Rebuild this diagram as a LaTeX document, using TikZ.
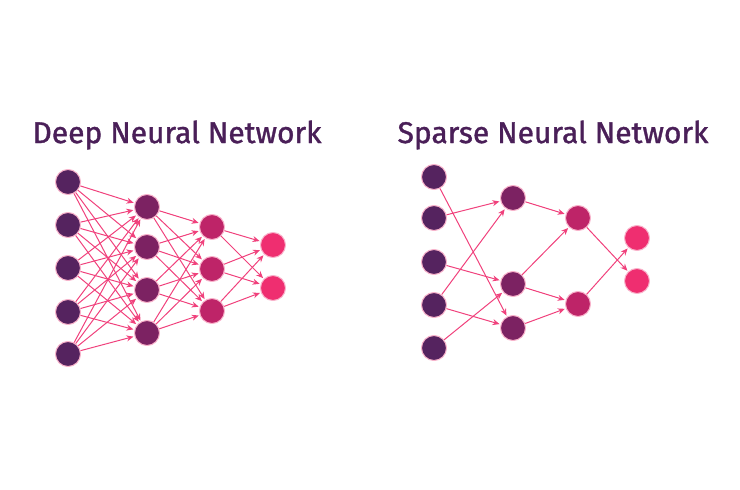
\documentclass[tikz,border=0pt]{standalone}
\usepackage{fontspec}
\setmainfont{Fira Sans}[FakeBold=1.2]
\usetikzlibrary{arrows.meta,positioning}
\definecolor{lone}{HTML}{55235F}
\definecolor{ltwo}{HTML}{7C2262}
\definecolor{lthree}{HTML}{BE2468}
\definecolor{lfour}{HTML}{EF2E70}
\definecolor{wire}{HTML}{F0417C}
\definecolor{title}{HTML}{4A1F58}

\begin{document}
\begin{tikzpicture}[x=1pt,y=-1pt,
  neuron/.style={circle,minimum size=25pt,inner sep=0pt,draw=wire!40,line width=1pt},
  link/.style={-{Stealth[length=7pt,width=6pt]},draw=wire,line width=1pt,shorten >=1pt},
  heading/.style={text=title,font=\fontsize{30}{32}\selectfont}]
\useasboundingbox (0,0) rectangle (740,490);

\node[heading] (tdeep) at (177,135) {Deep Neural Network};
\node[heading] (tsparse) at (553,135) {Sparse Neural Network};

% deep network
\foreach \i/\y in {1/182,2/225,3/268,4/312,5/354}
	\node[neuron,fill=lone] (a\i) at (68,\y) {};
\foreach \i/\y in {1/207,2/247,3/290,4/333}
	\node[neuron,fill=ltwo] (b\i) at (147,\y) {};
\foreach \i/\y in {1/227,2/269,3/311}
	\node[neuron,fill=lthree] (c\i) at (212,\y) {};
\foreach \i/\y in {1/245,2/288}
	\node[neuron,fill=lfour] (d\i) at (273,\y) {};

\foreach \f in {1,...,5}
	\foreach \t in {1,...,4}
		\draw[link] (a\f) -- (b\t);
\foreach \f in {1,...,4}
	\foreach \t in {1,...,3}
		\draw[link] (b\f) -- (c\t);
\foreach \f in {1,...,3}
	\foreach \t in {1,2}
		\draw[link] (c\f) -- (d\t);

% sparse network
\foreach \i/\y in {1/177,2/218,3/262,4/305,5/348}
	\node[neuron,fill=lone] (p\i) at (434,\y) {};
\foreach \i/\y in {1/198,2/284,3/328}
	\node[neuron,fill=ltwo] (q\i) at (513,\y) {};
\foreach \i/\y in {1/218,2/304}
	\node[neuron,fill=lthree] (r\i) at (578,\y) {};
\foreach \i/\y in {1/238,2/281}
	\node[neuron,fill=lfour] (s\i) at (637,\y) {};

\foreach \f/\t in {% start node/end node
	 p1/q3,
	 p2/q1,
	 p3/q2,
	 p4/q1,
	 p4/q3,
	 p5/q2,
	 q1/r1,
	 q2/r1,
	 q2/r2,
	 q3/r2,
	 r1/s2,
	 r2/s1}
	\draw[link] (\f) -- (\t);

\end{tikzpicture}
\end{document}
